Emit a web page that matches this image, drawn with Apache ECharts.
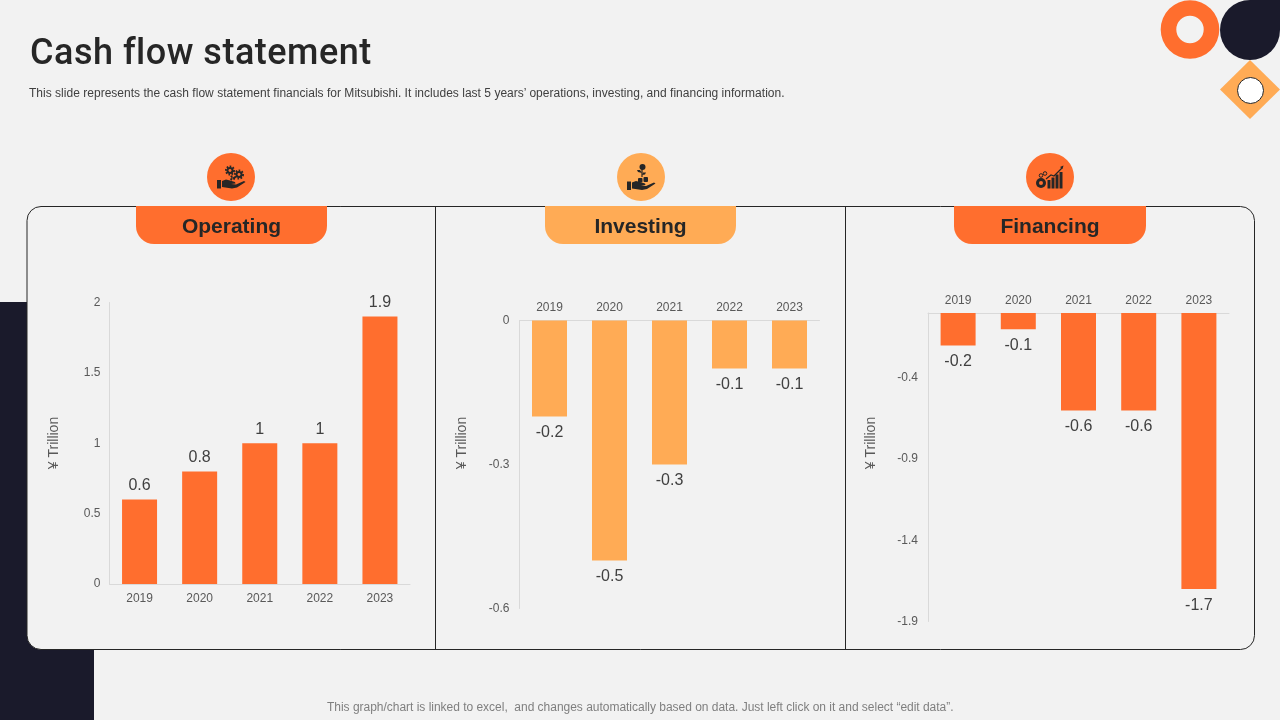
<!DOCTYPE html>
<html>
<head>
<meta charset="utf-8">
<title>Cash flow statement</title>
<style>
html,body{margin:0;padding:0;background:#F2F2F2;}
#chart{position:absolute;left:0;top:0;width:1280px;height:720px;}
.txt{position:absolute;white-space:pre;font-family:"Liberation Sans",sans-serif;}
#title{left:30px;top:30px;font-family:Roboto,sans-serif;font-weight:500;font-size:36px;line-height:44px;letter-spacing:0.5px;color:#262626;}
#sub{left:29px;top:85.5px;font-size:12px;line-height:15px;letter-spacing:0.02px;color:#404040;}
#foot{left:327px;top:700px;font-size:12px;line-height:15px;letter-spacing:-0.02px;color:#7F7F7F;}
</style>
</head>
<body>
<div id="chart"></div>
<div class="txt" id="title">Cash flow statement</div>
<div class="txt" id="sub">This slide represents the cash flow statement financials for Mitsubishi. It includes last 5 years’ operations, investing, and financing information.</div>
<div class="txt" id="foot">This graph/chart is linked to excel,  and changes automatically based on data. Just left click on it and select “edit data”.</div>
<script src="https://cdn.jsdelivr.net/npm/echarts@6/dist/echarts.min.js"></script>
<script>
var years = ['2019', '2020', '2021', '2022', '2023'];
var operating = [0.6, 0.8, 1, 1, 1.9];
var investing = [-0.2, -0.5, -0.3, -0.1, -0.1];
var financing = [-0.2, -0.1, -0.6, -0.6, -1.7];
var financingTicks = [-1.9, -1.4, -0.9, -0.4];
var yName = '¥ Trillion';

var ORANGE = '#FF6E2E';
var AMBER = '#FFAB55';
var DARK = '#1A1A2B';
var BG = '#F2F2F2';
var INK = '#262626';
var FONT = '"Liberation Sans", sans-serif';

var myChart = echarts.init(document.getElementById('chart'));

/* 标签页 */
function tab(x, w, color, text) {
	return [{
		type: 'rect',
		shape: { x: x, y: 206, width: w, height: 38, r: [0, 0, 18, 18] },
		style: { fill: color }
	}, {
		type: 'text',
		x: x + w / 2,
		y: 227,
		style: { text: text, fill: INK, font: 'bold 21px ' + FONT, align: 'center', verticalAlign: 'middle' }
	}];
}

function iconCircle(cx, color) {
	return { type: 'circle', shape: { cx: cx, cy: 177, r: 24 }, style: { fill: color } };
}

function rotatedName(x) {
	return {
		type: 'text',
		x: x,
		y: 443,
		rotation: Math.PI / 2,
		style: { text: yName, fill: '#595959', font: '14px ' + FONT, align: 'center', verticalAlign: 'middle' }
	};
}

function gear(cx, cy, r, hole) {
	return [{
		type: 'circle',
		shape: { cx: cx, cy: cy, r: r },
		style: { fill: 'none', stroke: INK, lineWidth: 2, lineDash: [1.6, 1.4] }
	}, {
		type: 'circle',
		shape: { cx: cx, cy: cy, r: r - 0.5 },
		style: { fill: INK }
	}, {
		type: 'circle',
		shape: { cx: cx, cy: cy, r: (r - 0.5) / 2.4 },
		style: { fill: hole }
	}];
}

function hand(x, y) {
	return [{
		type: 'rect',
		shape: { x: x, y: y, width: 4, height: 8.5 },
		style: { fill: INK }
	}, {
		type: 'polygon',
		shape: { points: [[x + 5, y + 1], [x + 9, y - 0.5], [x + 13, y + 0.5], [x + 18, y + 2], [x + 18.5, y + 3.5], [x + 14, y + 4], [x + 19, y + 4.5], [x + 27, y + 1], [x + 28.5, y + 2], [x + 20, y + 7.5], [x + 15, y + 8.5], [x + 5, y + 7]] },
		style: { fill: INK }
	}];
}

var graphics = [
	// 背景装饰
	{ type: 'rect', shape: { x: 0, y: 302, width: 94, height: 418 }, style: { fill: DARK } },
	{ type: 'ring', shape: { cx: 1190, cy: 29.5, r: 29.3, r0: 13.7 }, style: { fill: ORANGE } },
	{ type: 'circle', shape: { cx: 1250, cy: 30, r: 30 }, style: { fill: DARK } },
	{ type: 'rect', shape: { x: 1250, y: 0, width: 30, height: 30 }, style: { fill: DARK } },
	{ type: 'polygon', shape: { points: [[1250, 60], [1280, 89.5], [1250, 119], [1220, 89.5]] }, style: { fill: AMBER } },
	{ type: 'circle', shape: { cx: 1250.5, cy: 90.5, r: 13 }, style: { fill: '#FFFFFF', stroke: INK, lineWidth: 1 } },
	// 面板
	{ type: 'rect', shape: { x: 27, y: 206.5, width: 1227.5, height: 443, r: 14 }, style: { fill: BG, stroke: INK, lineWidth: 1 } },
	{ type: 'line', shape: { x1: 435.5, y1: 206.5, x2: 435.5, y2: 650 }, style: { stroke: INK, lineWidth: 1 } },
	{ type: 'line', shape: { x1: 845.5, y1: 206.5, x2: 845.5, y2: 650 }, style: { stroke: INK, lineWidth: 1 } },
	iconCircle(231, ORANGE),
	iconCircle(641, AMBER),
	iconCircle(1050, ORANGE),
	rotatedName(54),
	rotatedName(462),
	rotatedName(871),
	// 投资图标
	{ type: 'rect', shape: { x: 638, y: 178, width: 4.5, height: 4.5, r: 1 }, style: { fill: INK } },
	{ type: 'rect', shape: { x: 643.5, y: 177, width: 4.5, height: 5, r: 1 }, style: { fill: INK } },
	{ type: 'line', shape: { x1: 642, y1: 168, x2: 642, y2: 177 }, style: { stroke: INK, lineWidth: 1.2 } },
	{ type: 'circle', shape: { cx: 642.5, cy: 167, r: 3 }, style: { fill: INK } },
	{ type: 'polygon', shape: { points: [[642, 173], [638, 172], [637, 170], [640, 170]] }, style: { fill: INK } },
	{ type: 'polygon', shape: { points: [[642, 175], [645, 174.5], [646, 172.5], [643, 172.5]] }, style: { fill: INK } },
	// 融资图标
	{ type: 'circle', shape: { cx: 1041, cy: 183, r: 5 }, style: { fill: INK } },
	{ type: 'circle', shape: { cx: 1041, cy: 183, r: 2 }, style: { fill: ORANGE } },
	{ type: 'circle', shape: { cx: 1041, cy: 175.5, r: 1.8 }, style: { fill: 'none', stroke: INK, lineWidth: 1 } },
	{ type: 'circle', shape: { cx: 1045, cy: 173.5, r: 1.8 }, style: { fill: 'none', stroke: INK, lineWidth: 1 } },
	{ type: 'rect', shape: { x: 1047.5, y: 180, width: 3, height: 8.5 }, style: { fill: INK } },
	{ type: 'rect', shape: { x: 1051.5, y: 177.5, width: 3, height: 11 }, style: { fill: INK } },
	{ type: 'rect', shape: { x: 1055.5, y: 174.5, width: 3, height: 14 }, style: { fill: INK } },
	{ type: 'rect', shape: { x: 1059.5, y: 172, width: 3, height: 16.5 }, style: { fill: INK } },
	{ type: 'polyline', shape: { points: [[1046, 179], [1051, 175], [1054, 176], [1062, 168]] }, style: { fill: 'none', stroke: INK, lineWidth: 1.2 } },
	{ type: 'polygon', shape: { points: [[1060, 167], [1063.5, 165.5], [1062.5, 169]] }, style: { fill: INK } }
];
graphics = graphics
	.concat(hand(217, 180))
	.concat(hand(627, 181.5))
	.concat(gear(230, 170.5, 4, ORANGE))
	.concat(gear(239, 174.5, 4, ORANGE))
	.concat(gear(232.5, 178, 1.8, ORANGE))
	.concat(tab(136, 191, ORANGE, 'Operating'))
	.concat(tab(545, 191, AMBER, 'Investing'))
	.concat(tab(954, 192, ORANGE, 'Financing'));

function catAxis(idx, pos, margin) {
	return {
		type: 'category',
		gridIndex: idx,
		position: pos,
		data: years,
		axisTick: { show: false },
		axisLine: { show: true, onZero: false, lineStyle: { color: '#D9D9D9', width: 1 } },
		axisLabel: { color: '#595959', fontSize: 12, fontFamily: FONT, margin: margin, interval: 0 }
	};
}

function valAxis(idx, min, max, margin, interval, custom) {
	var label = { color: '#595959', fontSize: 12, fontFamily: FONT, margin: margin, padding: [1, 0, 0, 0], showMinLabel: true, showMaxLabel: true };
	var axis = {
		type: 'value',
		gridIndex: idx,
		min: min,
		max: max,
		splitLine: { show: false },
		axisTick: { show: false },
		axisLine: { show: true, onZero: false, lineStyle: { color: '#D9D9D9', width: 1 } },
		axisLabel: label
	};
	if (custom) {
		label.customValues = custom;
	} else {
		axis.interval = interval;
	}
	return axis;
}

function barSeries(idx, data, color, pos, dist) {
	return {
		type: 'bar',
		xAxisIndex: idx,
		yAxisIndex: idx,
		data: data,
		barWidth: 35,
		itemStyle: { color: color },
		silent: true,
		animation: false,
		label: {
			show: true,
			position: pos,
			distance: dist,
			color: '#404040',
			fontSize: 16,
			fontFamily: FONT
		}
	};
}

var option = {
	backgroundColor: BG,
	animation: false,
	graphic: { elements: graphics },
	grid: [
		{ left: 109.5, top: 302.5, width: 300.5, height: 281.5 },
		{ left: 519.5, top: 320.5, width: 300, height: 288 },
		{ left: 928, top: 313, width: 301, height: 308.5 }
	],
	xAxis: [
		catAxis(0, 'bottom', 8.5),
		catAxis(1, 'top', 6.5),
		catAxis(2, 'top', 6.5)
	],
	yAxis: [
		valAxis(0, 0, 2, 9, 0.5),
		valAxis(1, -0.6, 0, 10, 0.3),
		valAxis(2, -1.9, 0, 10, null, financingTicks)
	],
	series: [
		barSeries(0, operating, ORANGE, 'top', 6),
		barSeries(1, investing, AMBER, 'bottom', 8),
		barSeries(2, financing, ORANGE, 'bottom', 8.5)
	]
};

myChart.setOption(option);
</script>
</body>
</html>
